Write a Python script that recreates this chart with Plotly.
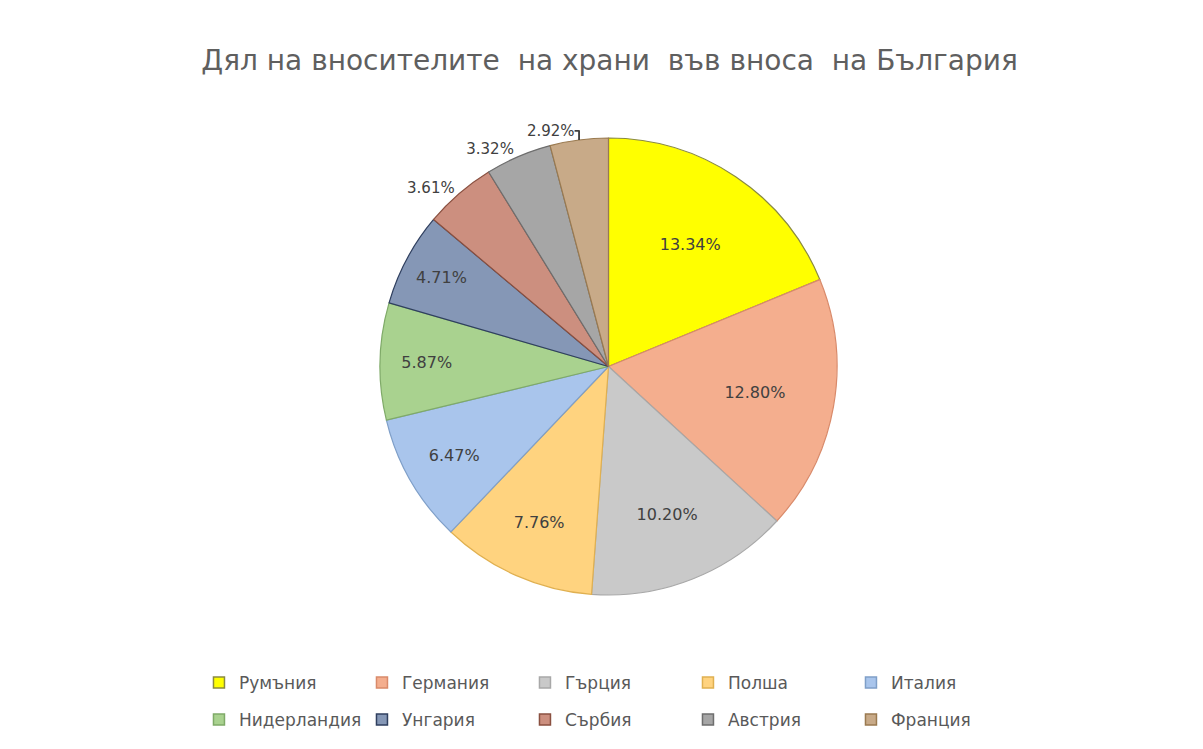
import plotly.graph_objects as go

countries = ["Румъния", "Германия", "Гърция", "Полша", "Италия",
             "Нидерландия", "Унгария", "Сърбия", "Австрия", "Франция"]
shares = [13.34, 12.80, 10.20, 7.76, 6.47, 5.87, 4.71, 3.61, 3.32, 2.92]
colors = ["#ffff00", "#f4ae8e", "#c9c9c9", "#ffd37f", "#a9c5ec",
          "#a9d28f", "#8597b6", "#cc8f7f", "#a6a6a6", "#c8aa88"]
line_colors = ["#8a8a40", "#d98a6a", "#a8a8a8", "#e0b050", "#7f9fc8",
               "#7faa68", "#2f3f5f", "#8a5040", "#6e6e6e", "#9a7a50"]
text_pos = ["inside"] * 7 + ["outside"] * 3

FONT = "DejaVu Sans"

fig = go.Figure()
fig.add_trace(go.Pie(
    labels=countries,
    values=shares,
    sort=False,
    direction="clockwise",
    rotation=0,
    marker=dict(colors=colors, line=dict(color=line_colors, width=1.2)),
    texttemplate="%{value:.2f}%",
    textposition=text_pos,
    insidetextorientation="horizontal",
    textfont=dict(size=16, color="#404040", family=FONT),
    outsidetextfont=dict(size=15, color="#404040", family=FONT),
    hoverinfo="label+value",
    showlegend=False,
))

# legend entries (two rows of five, as in the reference)
for i, (name, c, lc) in enumerate(zip(countries, colors, line_colors)):
    fig.add_trace(go.Scatter(
        x=[None], y=[None], mode="markers", name=name,
        marker=dict(symbol="square", size=11, color=c, line=dict(color=lc, width=1.5)),
        legend="legend" if i < 5 else "legend2",
        hoverinfo="skip",
    ))

legend_common = dict(orientation="h", xanchor="left", yanchor="middle",
                     entrywidth=118, entrywidthmode="pixels", itemwidth=30,
                     font=dict(size=17, color="#595959", family=FONT),
                     traceorder="normal", itemclick=False, itemdoubleclick=False,
                     bgcolor="rgba(0,0,0,0)")

fig.update_layout(
    width=1203, height=749,
    paper_bgcolor="white", plot_bgcolor="white",
    margin=dict(l=189, r=191, t=130, b=162),
    xaxis=dict(visible=False), yaxis=dict(visible=False),
    title=dict(text="Дял на вносителите  на храни  във вноса  на България",
               x=0.5, xanchor="center", y=0.9306, yanchor="middle",
               font=dict(size=28, color="#5f5f5f", family=FONT)),
    legend=dict(x=0.0024, y=-0.1926, **legend_common),
    legend2=dict(x=0.0024, y=-0.2735, **legend_common),
)

fig.write_html("out.html")
